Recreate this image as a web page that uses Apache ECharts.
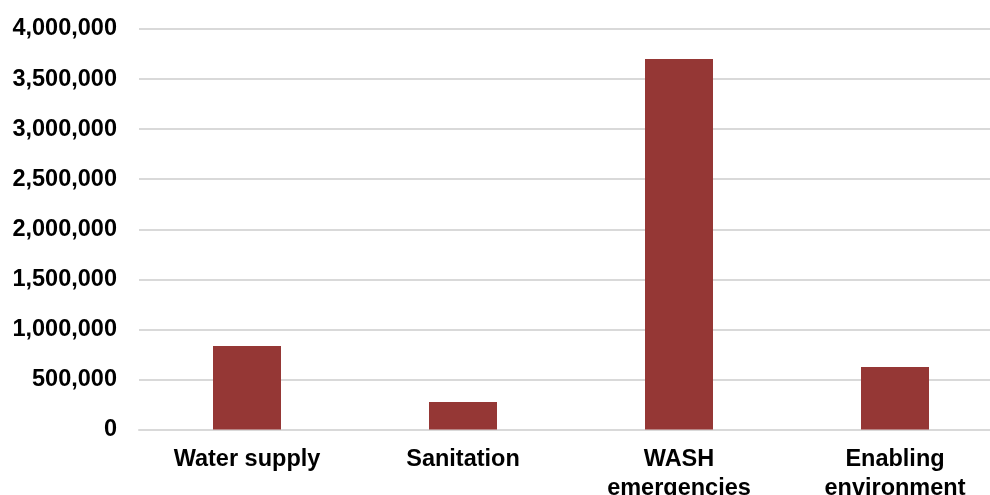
<!DOCTYPE html>
<html>
<head>
<meta charset="utf-8">
<script src="https://cdn.jsdelivr.net/npm/echarts@6/dist/echarts.min.js"></script>
<style>
  html, body { margin: 0; padding: 0; background: #ffffff; }
  #chart { width: 990px; height: 495px; }
</style>
</head>
<body>
<div id="chart"></div>
<script>
// WASH funding by programme area
const categories = ['Water supply', 'Sanitation', 'WASH\nemergencies', 'Enabling\nenvironment'];
const amounts = [834000, 275000, 3700000, 624000];
const yTicks = { min: 0, max: 4000000, interval: 500000 };

const chart = echarts.init(document.getElementById('chart'));
chart.setOption({
  animation: false,
  grid: {
    left: 139, width: 864, top: 29, bottom: 65.5,
    containLabel: false,
    outerBoundsMode: 'none'
  },
  xAxis: {
    type: 'category',
    data: categories,
    axisLine: { show: true, lineStyle: { color: '#d9d9d9', width: 2 } },
    axisTick: { show: false },
    axisLabel: {
      interval: 0,
      color: '#000000',
      fontFamily: 'Liberation Sans, Arial, sans-serif',
      fontWeight: 'bold',
      fontSize: 23.5,
      lineHeight: 29,
      margin: 16
    }
  },
  yAxis: {
    type: 'value',
    min: yTicks.min,
    max: yTicks.max,
    interval: yTicks.interval,
    axisLine: { show: false },
    axisTick: { show: false },
    splitLine: { lineStyle: { color: '#d9d9d9', width: 2 } },
    axisLabel: {
      color: '#000000',
      fontFamily: 'Liberation Sans, Arial, sans-serif',
      fontWeight: 'bold',
      fontSize: 23.5,
      margin: 22,
      padding: [3, 0, 0, 0],
      formatter: v => v.toLocaleString('en-US')
    }
  },
  series: [{
    type: 'bar',
    data: amounts,
    barWidth: 68,
    itemStyle: { color: '#953735' }
  }]
});
</script>
</body>
</html>
